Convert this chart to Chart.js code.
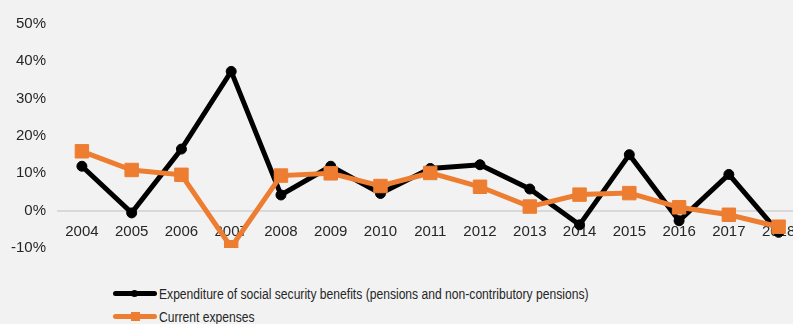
<!DOCTYPE html>
<html lang="en">
<head>
    <meta charset="UTF-8">
    <title>Social security expenditure growth</title>
    <style>
        body {
            margin: 0;
            padding: 0;
            background-color: #f2f2f2;
            font-family: "Liberation Sans", Arial, sans-serif;
            overflow: hidden;
            width: 793px;
            height: 324px;
            position: relative;
        }
        .chart-box {
            position: absolute;
            left: 0;
            top: 0;
            width: 814px;
            height: 270px;
        }
        .legend {
            position: absolute;
            left: 113px;
            top: 282px;
            font-family: "Liberation Sans", Arial, sans-serif;
            font-size: 14px;
            color: #262626;
        }
        .legend-row {
            display: flex;
            align-items: center;
            height: 23px;
            white-space: nowrap;
        }
        .legend-mark {
            position: relative;
            width: 44px;
            height: 5px;
            margin-right: 2px;
            flex: none;
        }
        .legend-mark span {
            position: absolute;
            left: 18px;
        }
        .legend-text {
            display: inline-block;
            transform: scaleX(0.865);
            transform-origin: left center;
        }
    </style>
</head>
<body>

<div class="chart-box">
    <canvas id="growthChart"></canvas>
</div>

<div class="legend" id="legend"></div>

<script src="https://cdn.jsdelivr.net/npm/chart.js"></script>
<script>
    const years = ['2004', '2005', '2006', '2007', '2008', '2009', '2010', '2011',
                   '2012', '2013', '2014', '2015', '2016', '2017', '2018'];
    const benefitsLabel = 'Expenditure of social security benefits (pensions and non-contributory pensions)';
    const benefitsValues = [11.9, -0.6, 16.5, 37.3, 4.2, 11.9, 4.6, 11.3, 12.3, 5.8, -3.8, 15.0, -2.7, 9.7, -5.8];
    const currentLabel = 'Current expenses';
    const currentValues = [15.9, 10.9, 9.6, -9.8, 9.4, 10.0, 6.6, 10.1, 6.4, 1.1, 4.3, 4.7, 0.9, -1.1, -4.3];
    const yTicks = [-10, 0, 10, 20, 30, 40, 50];

    const black = '#000000';
    const orange = '#ed7d31';

    const ctx = document.getElementById('growthChart').getContext('2d');
    const growthChart = new Chart(ctx, {
        type: 'line',
        data: {
            labels: years,
            datasets: [{
                label: benefitsLabel,
                data: benefitsValues,
                borderColor: black,
                backgroundColor: black,
                borderWidth: 5,
                pointStyle: 'circle',
                pointRadius: 5,
                pointBorderWidth: 1,
                order: 1
            }, {
                label: currentLabel,
                data: currentValues,
                borderColor: orange,
                backgroundColor: orange,
                borderWidth: 5,
                pointStyle: 'rect',
                pointRadius: 9.5,
                pointBorderWidth: 1,
                order: 0
            }]
        },
        options: {
            responsive: true,
            maintainAspectRatio: false,
            animation: false,
            layout: {
                padding: { top: 24, right: 4, bottom: 22, left: 0 }
            },
            plugins: {
                legend: { display: false },
                tooltip: { enabled: false }
            },
            scales: {
                x: {
                    position: { y: 0 },
                    offset: true,
                    grid: { display: false },
                    border: { display: false },
                    ticks: {
                        color: '#262626',
                        font: { family: 'Liberation Sans', size: 15 },
                        padding: 4,
                        maxRotation: 0,
                        autoSkip: false
                    }
                },
                y: {
                    min: yTicks[0],
                    max: yTicks[yTicks.length - 1],
                    afterBuildTicks: scale => {
                        scale.ticks = yTicks.map(v => ({ value: v }));
                    },
                    border: { display: false },
                    grid: {
                        drawTicks: false,
                        lineWidth: 2,
                        color: c => c.tick && c.tick.value === 0 ? '#d9d9d9' : 'transparent'
                    },
                    ticks: {
                        color: '#262626',
                        font: { family: 'Liberation Sans', size: 15 },
                        padding: 11,
                        callback: v => v + '%'
                    }
                }
            }
        }
    });

    // simple html legend so rows sit where the original has them
    const legendBox = document.getElementById('legend');
    growthChart.data.datasets.forEach(ds => {
        const row = document.createElement('div');
        row.className = 'legend-row';
        const mark = document.createElement('div');
        mark.className = 'legend-mark';
        mark.style.background = ds.borderColor;
        mark.style.borderRadius = '3px';
        const dot = document.createElement('span');
        dot.style.background = ds.borderColor;
        if (ds.pointStyle === 'circle') {
            dot.style.width = '7px';
            dot.style.height = '7px';
            dot.style.top = '-1px';
            dot.style.borderRadius = '50%';
        } else {
            dot.style.width = '9px';
            dot.style.height = '9px';
            dot.style.top = '-2px';
        }
        mark.appendChild(dot);
        const text = document.createElement('span');
        text.className = 'legend-text';
        text.textContent = ds.label;
        row.appendChild(mark);
        row.appendChild(text);
        legendBox.appendChild(row);
    });
</script>

</body>
</html>
